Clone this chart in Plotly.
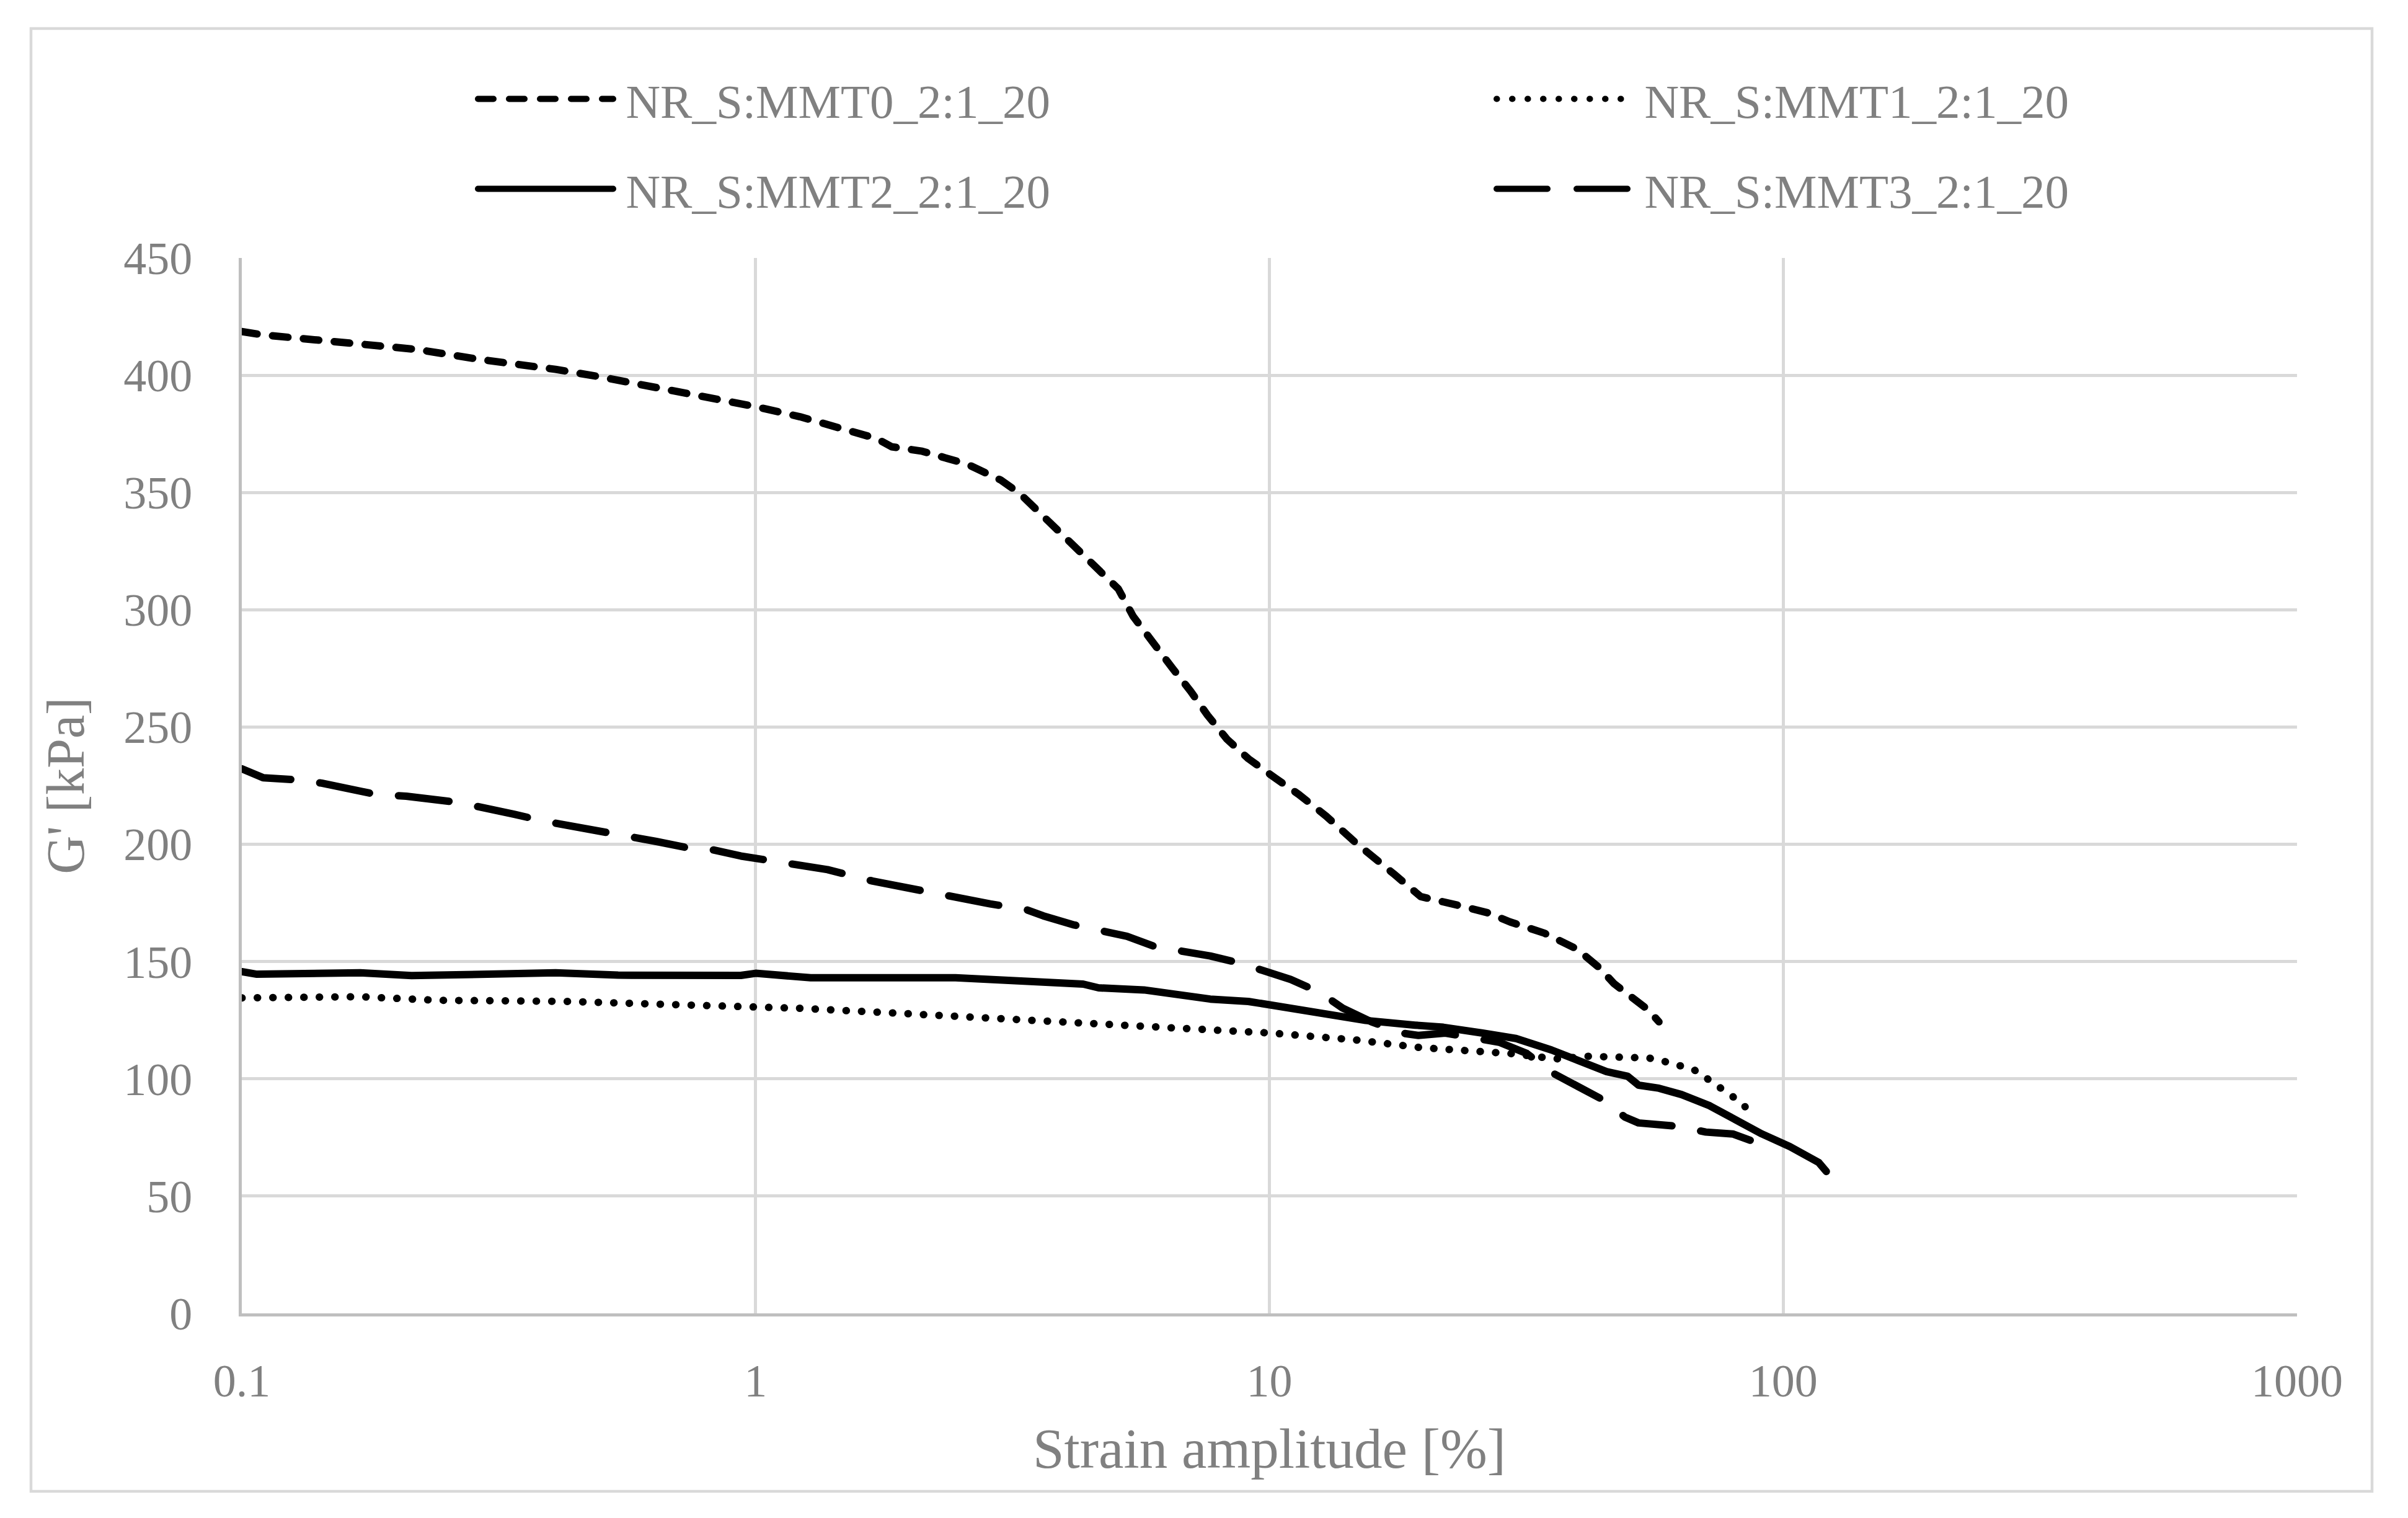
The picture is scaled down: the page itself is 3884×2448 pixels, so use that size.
import plotly.graph_objects as go

# ---------------- data ----------------
names = ["NR_S:MMT0_2:1_20", "NR_S:MMT1_2:1_20", "NR_S:MMT2_2:1_20", "NR_S:MMT3_2:1_20"]

mmt0_x = [0.1, 0.11, 0.166, 0.219, 0.289, 0.381, 0.408, 0.502, 0.663, 0.874, 1.0, 1.22, 1.40, 1.60,
          1.72, 1.84, 2.11, 2.58, 3.0, 3.27, 3.73, 4.13, 4.57, 5.08, 5.43, 5.91, 6.47, 7.03, 7.58,
          8.27, 9.1, 10.3, 11.4, 12.9, 14.7, 17.5, 19.7, 23.6, 26.6, 29.4, 34.3, 39.7, 43.8, 46.9,
          49.8, 54.7, 57.3]
mmt0_y = [418.6, 417.2, 413.5, 411.0, 406.8, 403.5, 402.5, 399.2, 394.2, 389.0, 386.6, 382.3, 378.9,
          375.0, 373.0, 369.5, 367.6, 362.1, 355.3, 349.5, 337.6, 327.6, 319.1, 308.9, 297.2, 286.2,
          275.2, 265.2, 255.0, 244.8, 236.5, 228.0, 221.3, 212.0, 200.8, 187.2, 177.7, 173.7, 170.8,
          166.9, 162.1, 155.3, 147.5, 140.5, 136.0, 129.3, 124.3]

mmt1_x = [0.1, 0.17, 0.24, 0.43, 0.68, 0.95, 1.21, 2.0, 3.3, 6.3, 10.1, 14.7, 19.7, 29.4, 36.1, 41.7,
          44.2, 51.2, 54.7, 58.3, 62.9, 66.9, 71.0, 75.8, 79.8, 84.3]
mmt1_y = [134.5, 135.0, 133.5, 133.0, 131.7, 131.1, 130.1, 127.7, 125.3, 121.9, 119.5, 116.6, 113.3,
          110.8, 108.5, 109.6, 109.4, 109.2, 108.9, 107.6, 106.0, 104.0, 100.2, 96.2, 92.4, 88.1]

mmt2_x = [0.1, 0.107, 0.17, 0.214, 0.408, 0.54, 0.936, 1.0, 1.28, 2.45, 4.34, 4.65, 5.7, 7.67, 9.1,
          10.3, 11.4, 13.2, 15.4, 19.2, 21.8, 26.0, 30.2, 35.4, 41.0, 43.8, 45.3, 49.8, 52.3, 57.3,
          63.4, 71.8, 81.8, 90.9, 103.0, 113.2, 117.3, 121.3]
mmt2_y = [145.7, 144.6, 145.2, 144.0, 145.2, 144.2, 144.1, 145.0, 143.1, 143.1, 140.4, 138.8, 137.9,
          134.0, 133.0, 131.1, 129.8, 126.9, 124.9, 122.9, 122.0, 119.5, 117.2, 112.3, 107.0, 104.0,
          103.1, 101.1, 97.3, 96.0, 93.3, 88.6, 81.8, 76.5, 71.1, 66.4, 64.3, 60.5]

mmt3_x = [0.1, 0.110, 0.126, 0.143, 0.182, 0.209, 0.263, 0.303, 0.339, 0.385, 0.442, 0.564, 0.641,
          0.745, 0.815, 0.936, 1.19, 1.38, 1.69, 1.98, 2.5, 2.86, 3.37, 3.63, 4.17, 4.8, 5.28, 6.0,
          7.67, 8.7, 9.83, 11.0, 12.5, 13.9, 15.8, 18.1, 19.5, 22.0, 28.0, 31.7, 35.5, 39.4, 44.2,
          49.2, 52.3, 61.9, 70.7, 79.8, 90.4]
mmt3_y = [232.2, 228.4, 227.6, 226.1, 221.3, 220.5, 217.9, 215.4, 212.8, 210.0, 207.6, 204.0, 201.2,
          198.3, 197.9, 195.0, 191.5, 189.2, 184.3, 181.4, 176.6, 174.6, 172.1, 169.5, 165.6, 163.1,
          160.8, 156.3, 152.4, 149.5, 145.7, 142.4, 137.0, 130.1, 124.3, 119.5, 118.5, 119.5, 115.6,
          110.8, 102.6, 97.2, 91.5, 83.7, 81.2, 79.8, 77.3, 76.5, 72.2]

x_tickvals = [0.1, 1, 10, 100, 1000]
x_ticktext = ["0.1", "1", "10", "100", "1000"]
y_tickvals = [0, 50, 100, 150, 200, 250, 300, 350, 400, 450]
y_ticktext = ["0", "50", "100", "150", "200", "250", "300", "350", "400", "450"]

# ---------------- styling ----------------
W, H = 3884, 2448
FONT = "Liberation Serif"
GRAY = "#808080"
GRID = "#d9d9d9"
AXIS = "#bfbfbf"
LW = 12
dashes = ["25px,25px", "0.5px,24.5px", "solid", "82px,47px"]
legends = ["legend", "legend", "legend2", "legend2"]
series = [(mmt0_x, mmt0_y), (mmt1_x, mmt1_y), (mmt2_x, mmt2_y), (mmt3_x, mmt3_y)]

fig = go.Figure()
for name, (xs, ys), dash, lg in zip(names, series, dashes, legends):
    fig.add_trace(go.Scatter(x=xs, y=ys, mode="lines", name="\u2009" + name, legend=lg,
                             line=dict(color="black", width=LW, dash=dash)))

ml, mr, mt, mb = 390, 179, 416, 330
pw, ph = W - ml - mr, H - mt - mb

def px2paper_x(px):
    return (px - ml) / pw

def px2paper_y(py):
    return (H - mb - py) / ph

fig.add_shape(type="rect", xref="paper", yref="paper", layer="below",
              x0=px2paper_x(50), x1=px2paper_x(3826), y0=px2paper_y(2405), y1=px2paper_y(46),
              line=dict(color=GRID, width=4.5), fillcolor="rgba(0,0,0,0)")

legend_common = dict(orientation="h", xref="container", yref="container", xanchor="left",
                     yanchor="middle", font=dict(family=FONT, size=77, color=GRAY),
                     itemwidth=218, entrywidth=1410, entrywidthmode="pixels",
                     bgcolor="rgba(0,0,0,0)", traceorder="normal", itemclick=False,
                     itemdoubleclick=False)

fig.update_layout(
    width=W, height=H,
    margin=dict(l=ml, r=mr, t=mt, b=mb, autoexpand=False),
    paper_bgcolor="white", plot_bgcolor="white",
    font=dict(family=FONT, color=GRAY),
    legend=dict(x=(772 - 6) / W, y=1 - 160 / H, **legend_common),
    legend2=dict(x=(772 - 6) / W, y=1 - 305 / H, **legend_common),
    xaxis=dict(type="log", range=[-1, 3], tickvals=x_tickvals, ticktext=x_ticktext,
               showgrid=True, gridcolor=GRID, gridwidth=5, showline=True, linecolor=AXIS,
               linewidth=5, ticks="", zeroline=False, ticklabelstandoff=40,
               tickfont=dict(family=FONT, size=74, color=GRAY),
               title=dict(text="Strain amplitude [%]", font=dict(family=FONT, size=91, color=GRAY),
                          standoff=38)),
    yaxis=dict(range=[0, 450], tickvals=y_tickvals, ticktext=y_ticktext,
               showgrid=True, gridcolor=GRID, gridwidth=5, showline=True, linecolor=AXIS,
               linewidth=5, ticks="", zeroline=False, ticklabelstandoff=60,
               tickfont=dict(family=FONT, size=74, color=GRAY),
               title=dict(text="G' [kPa]", font=dict(family=FONT, size=86, color=GRAY),
                          standoff=37)),
    showlegend=True,
)

post = """
document.body.style.margin = '0';
document.body.style.padding = '0';
var gd = document.getElementById('{plot_id}');
function roundCaps(){
  gd.querySelectorAll('path.js-line').forEach(function(p){
    p.style.strokeLinecap = 'round';
    p.style.strokeLinejoin = 'round';
  });
}
roundCaps();
if (gd.on) { gd.on('plotly_afterplot', roundCaps); }
"""

fig.write_html("out.html", post_script=post, config={"displayModeBar": False})
